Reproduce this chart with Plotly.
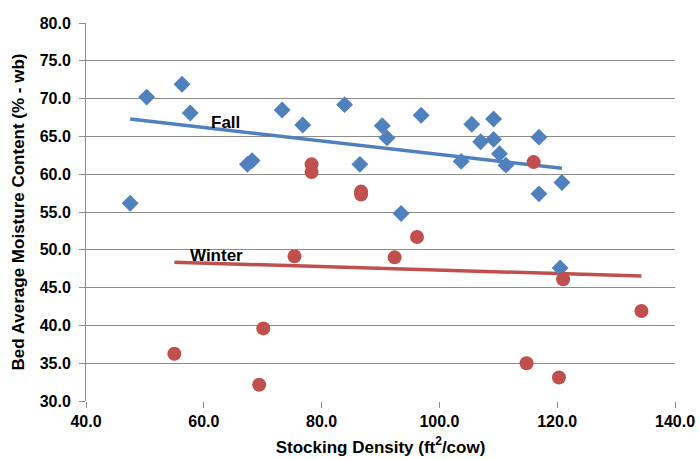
import numpy as np
import plotly.graph_objects as go

# Fall data (blue diamonds)
fall_x = [47.5, 50.3, 56.3, 57.7, 67.4, 68.2, 73.3, 76.8, 83.9, 86.5, 90.3, 91.1, 96.9, 93.5,
          103.7, 105.5, 107.0, 109.2, 109.2, 110.2, 111.3, 116.9, 116.9, 120.8, 120.5]
fall_y = [56.15, 70.2, 71.9, 68.1, 61.3, 61.8, 68.5, 66.5, 69.2, 61.3, 66.4, 64.8, 67.8, 54.8,
          61.7, 66.6, 64.3, 67.3, 64.6, 62.7, 61.2, 64.9, 57.4, 58.9, 47.6]

# Winter data (red circles)
winter_x = [78.3, 78.3, 86.7, 86.7, 116.0, 75.4, 70.1, 55.0, 69.4, 96.2, 92.4, 121.0, 134.3, 114.8, 120.3]
winter_y = [61.3, 60.3, 57.7, 57.3, 61.6, 49.15, 39.6, 36.25, 32.15, 51.7, 49.0, 46.1, 41.9, 35.0, 33.1]

x_ticks = [40, 60, 80, 100, 120, 140]
y_ticks = [30, 35, 40, 45, 50, 55, 60, 65, 70, 75, 80]

BLUE = "#4F81BD"
RED = "#C0504D"
FONT = "Liberation Sans, Arial, sans-serif"


def trend(xs, ys):
    xs = np.array(xs)
    ys = np.array(ys)
    m, b = np.polyfit(xs, ys, 1)
    tx = np.array([xs.min(), xs.max()])
    return tx, m * tx + b


fig = go.Figure()

ftx, fty = trend(fall_x, fall_y)
wtx, wty = trend(winter_x, winter_y)

fig.add_trace(go.Scatter(x=ftx, y=fty, mode="lines", line=dict(color=BLUE, width=3.5),
                         showlegend=False, hoverinfo="skip"))
fig.add_trace(go.Scatter(x=wtx, y=wty, mode="lines", line=dict(color=RED, width=3.5),
                         showlegend=False, hoverinfo="skip"))
fig.add_trace(go.Scatter(x=fall_x, y=fall_y, mode="markers", name="Fall",
                         marker=dict(symbol="diamond", size=13, color=BLUE, line=dict(width=0)),
                         showlegend=False))
fig.add_trace(go.Scatter(x=winter_x, y=winter_y, mode="markers", name="Winter",
                         marker=dict(symbol="circle", size=14, color=RED, line=dict(width=0)),
                         showlegend=False))

fig.add_annotation(x=63.6, y=66.9, text="<b>Fall</b>", showarrow=False,
                   font=dict(family=FONT, size=17, color="black"))
fig.add_annotation(x=62.1, y=49.2, text="<b>Winter</b>", showarrow=False,
                   font=dict(family=FONT, size=17, color="black"))

fig.update_layout(
    width=699, height=460,
    margin=dict(l=86, r=24, t=23, b=59),
    paper_bgcolor="white", plot_bgcolor="white",
    font=dict(family=FONT, size=16, color="black"),
)

fig.update_xaxes(
    range=[40, 140], tickvals=x_ticks, ticktext=[f"{v:.1f}" for v in x_ticks],
    showgrid=False, zeroline=False,
    showline=False,
    ticks="outside", ticklen=6, tickcolor="#8c8c8c", tickwidth=1,
    tickfont=dict(family=FONT, size=16, color="black", weight="bold"),
    title=dict(text="<b>Stocking Density (ft<sup>2</sup>/cow)</b>", standoff=11,
               font=dict(family=FONT, size=17, color="black")),
    automargin=False,
)
fig.update_yaxes(
    range=[30, 80], tickvals=y_ticks, ticktext=[f"{v:.1f}" for v in y_ticks],
    showgrid=True, gridcolor="#8c8c8c", gridwidth=1, zeroline=False,
    showline=True, linecolor="#8c8c8c", linewidth=1,
    ticks="outside", ticklen=6, tickcolor="#8c8c8c", tickwidth=1,
    ticklabelstandoff=5,
    tickfont=dict(family=FONT, size=16, color="black", weight="bold"),
    title=dict(text="<b>Bed Average Moisture Content (% - wb)</b>", standoff=10,
               font=dict(family=FONT, size=17, color="black")),
    automargin=False,
)

fig.write_html(
    "out.html",
    config={"displayModeBar": False},
    post_script="document.body.style.margin='0';document.body.style.overflow='hidden';",
)
